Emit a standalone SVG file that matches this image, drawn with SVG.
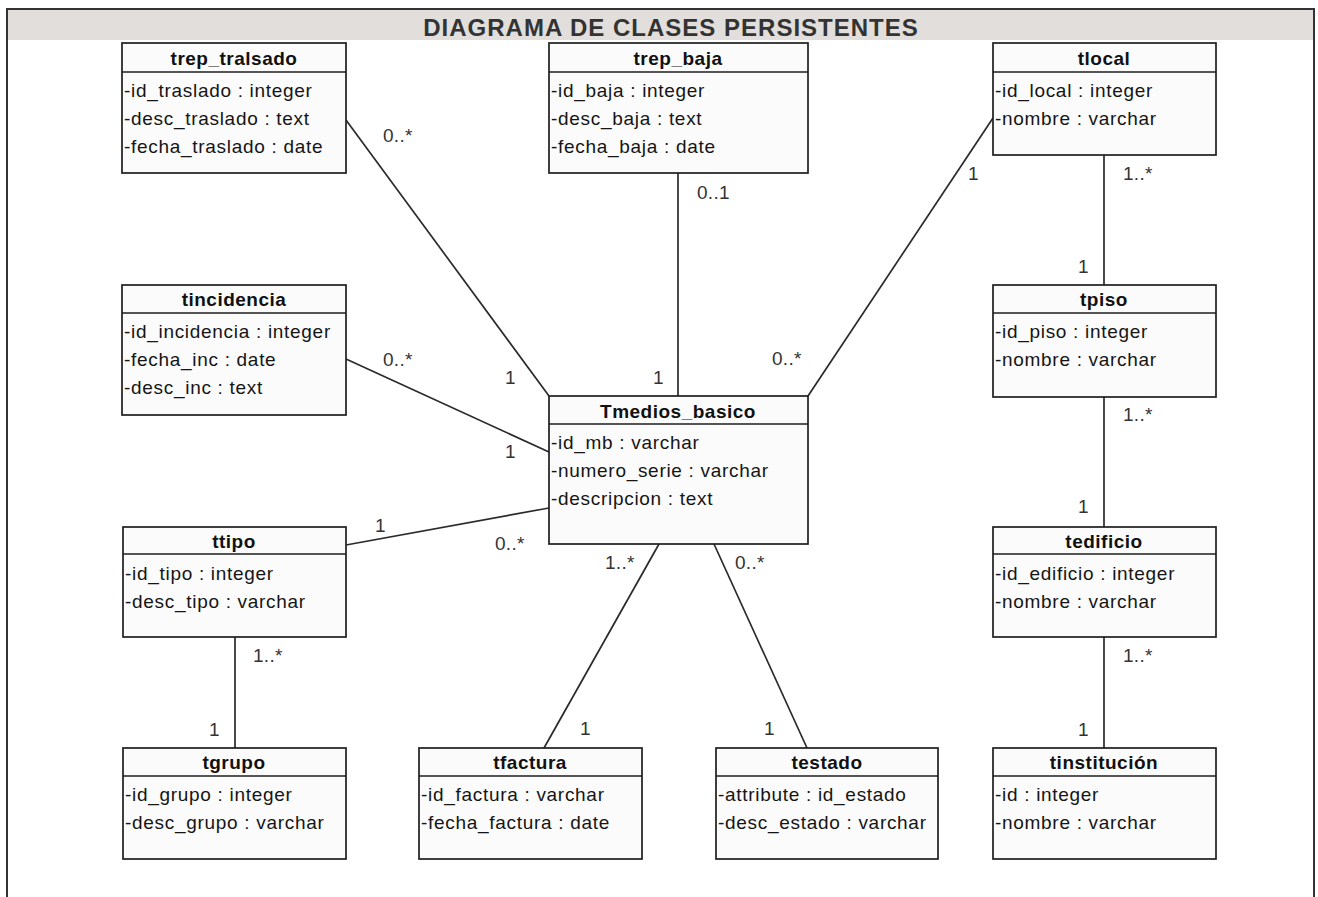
<svg xmlns="http://www.w3.org/2000/svg" width="1318" height="897" viewBox="0 0 1318 897">
<style>
.box{fill:#fbfbfb;stroke:#1e1e1e;stroke-width:1.7}
.sep{stroke:#1e1e1e;stroke-width:1.7}
.nm{font-family:"Liberation Sans",Arial,sans-serif;font-weight:bold;font-size:19px;fill:#111;text-anchor:middle;letter-spacing:0.5px}
.at{font-family:"Liberation Sans",Arial,sans-serif;font-size:19px;fill:#151515;letter-spacing:0.7px}
.lb{font-family:"Liberation Sans",Arial,sans-serif;font-size:19px;fill:#333;letter-spacing:0.3px}
.cn{stroke:#2a2a2a;stroke-width:1.7;fill:none}
</style>
<rect x="0" y="0" width="1318" height="897" fill="#ffffff"/>
<g id="frame">
<rect x="8" y="10" width="1306" height="30" fill="#e1dedb"/>
<path d="M7,900 V9 H1314 V900" fill="none" stroke="#333" stroke-width="2"/>
<text x="671" y="36" font-family="Liberation Sans,Arial,sans-serif" font-weight="bold" font-size="24" fill="#333" text-anchor="middle" letter-spacing="1">DIAGRAMA DE CLASES PERSISTENTES</text>
</g>
<g id="connectors">
<line class="cn" x1="346" y1="120" x2="549" y2="396"/>
<line class="cn" x1="678" y1="173" x2="678" y2="396"/>
<line class="cn" x1="993" y1="118" x2="808" y2="396"/>
<line class="cn" x1="346" y1="359" x2="549" y2="452"/>
<line class="cn" x1="346" y1="545" x2="549" y2="508"/>
<line class="cn" x1="544" y1="748" x2="659" y2="544"/>
<line class="cn" x1="807" y1="748" x2="714" y2="544"/>
<line class="cn" x1="1104" y1="155" x2="1104" y2="285"/>
<line class="cn" x1="1104" y1="397" x2="1104" y2="527"/>
<line class="cn" x1="1104" y1="637" x2="1104" y2="748"/>
<line class="cn" x1="235" y1="637" x2="235" y2="748"/>
<text class="lb" x="383" y="142">0..*</text>
<text class="lb" x="505" y="384">1</text>
<text class="lb" x="697" y="199">0..1</text>
<text class="lb" x="653" y="384">1</text>
<text class="lb" x="968" y="180">1</text>
<text class="lb" x="772" y="365">0..*</text>
<text class="lb" x="383" y="366">0..*</text>
<text class="lb" x="505" y="458">1</text>
<text class="lb" x="375" y="532">1</text>
<text class="lb" x="495" y="550">0..*</text>
<text class="lb" x="605" y="569">1..*</text>
<text class="lb" x="735" y="569">0..*</text>
<text class="lb" x="580" y="735">1</text>
<text class="lb" x="764" y="735">1</text>
<text class="lb" x="1123" y="180">1..*</text>
<text class="lb" x="1078" y="273">1</text>
<text class="lb" x="1123" y="421">1..*</text>
<text class="lb" x="1078" y="513">1</text>
<text class="lb" x="1123" y="662">1..*</text>
<text class="lb" x="1078" y="736">1</text>
<text class="lb" x="253" y="662">1..*</text>
<text class="lb" x="209" y="736">1</text>
</g>
<g id="trep_tralsado">
<rect class="box" x="122" y="43" width="224" height="130"/>
<line class="sep" x1="122" y1="72" x2="346" y2="72"/>
<text class="nm" x="234" y="65">trep_tralsado</text>
<text class="at" x="124" y="97">-id_traslado : integer</text>
<text class="at" x="124" y="125">-desc_traslado : text</text>
<text class="at" x="124" y="153">-fecha_traslado : date</text>
</g>
<g id="trep_baja">
<rect class="box" x="549" y="43" width="259" height="130"/>
<line class="sep" x1="549" y1="72" x2="808" y2="72"/>
<text class="nm" x="678" y="65">trep_baja</text>
<text class="at" x="551" y="97">-id_baja : integer</text>
<text class="at" x="551" y="125">-desc_baja : text</text>
<text class="at" x="551" y="153">-fecha_baja : date</text>
</g>
<g id="tlocal">
<rect class="box" x="993" y="43" width="223" height="112"/>
<line class="sep" x1="993" y1="72" x2="1216" y2="72"/>
<text class="nm" x="1104" y="65">tlocal</text>
<text class="at" x="995" y="97">-id_local : integer</text>
<text class="at" x="995" y="125">-nombre : varchar</text>
</g>
<g id="tincidencia">
<rect class="box" x="122" y="285" width="224" height="130"/>
<line class="sep" x1="122" y1="313" x2="346" y2="313"/>
<text class="nm" x="234" y="306">tincidencia</text>
<text class="at" x="124" y="338">-id_incidencia : integer</text>
<text class="at" x="124" y="366">-fecha_inc : date</text>
<text class="at" x="124" y="394">-desc_inc : text</text>
</g>
<g id="tpiso">
<rect class="box" x="993" y="285" width="223" height="112"/>
<line class="sep" x1="993" y1="313" x2="1216" y2="313"/>
<text class="nm" x="1104" y="306">tpiso</text>
<text class="at" x="995" y="338">-id_piso : integer</text>
<text class="at" x="995" y="366">-nombre : varchar</text>
</g>
<g id="Tmedios_basico">
<rect class="box" x="549" y="396" width="259" height="148"/>
<line class="sep" x1="549" y1="424" x2="808" y2="424"/>
<text class="nm" x="678" y="418">Tmedios_basico</text>
<text class="at" x="551" y="449">-id_mb : varchar</text>
<text class="at" x="551" y="477">-numero_serie : varchar</text>
<text class="at" x="551" y="505">-descripcion : text</text>
</g>
<g id="ttipo">
<rect class="box" x="123" y="527" width="223" height="110"/>
<line class="sep" x1="123" y1="554" x2="346" y2="554"/>
<text class="nm" x="234" y="548">ttipo</text>
<text class="at" x="125" y="580">-id_tipo : integer</text>
<text class="at" x="125" y="608">-desc_tipo : varchar</text>
</g>
<g id="tedificio">
<rect class="box" x="993" y="527" width="223" height="110"/>
<line class="sep" x1="993" y1="554" x2="1216" y2="554"/>
<text class="nm" x="1104" y="548">tedificio</text>
<text class="at" x="995" y="580">-id_edificio : integer</text>
<text class="at" x="995" y="608">-nombre : varchar</text>
</g>
<g id="tgrupo">
<rect class="box" x="123" y="748" width="223" height="111"/>
<line class="sep" x1="123" y1="776" x2="346" y2="776"/>
<text class="nm" x="234" y="769">tgrupo</text>
<text class="at" x="125" y="801">-id_grupo : integer</text>
<text class="at" x="125" y="829">-desc_grupo : varchar</text>
</g>
<g id="tfactura">
<rect class="box" x="419" y="748" width="223" height="111"/>
<line class="sep" x1="419" y1="776" x2="642" y2="776"/>
<text class="nm" x="530" y="769">tfactura</text>
<text class="at" x="421" y="801">-id_factura : varchar</text>
<text class="at" x="421" y="829">-fecha_factura : date</text>
</g>
<g id="testado">
<rect class="box" x="716" y="748" width="222" height="111"/>
<line class="sep" x1="716" y1="776" x2="938" y2="776"/>
<text class="nm" x="827" y="769">testado</text>
<text class="at" x="718" y="801">-attribute : id_estado</text>
<text class="at" x="718" y="829">-desc_estado : varchar</text>
</g>
<g id="tinstitucion">
<rect class="box" x="993" y="748" width="223" height="111"/>
<line class="sep" x1="993" y1="776" x2="1216" y2="776"/>
<text class="nm" x="1104" y="769">tinstitución</text>
<text class="at" x="995" y="801">-id : integer</text>
<text class="at" x="995" y="829">-nombre : varchar</text>
</g>
</svg>
